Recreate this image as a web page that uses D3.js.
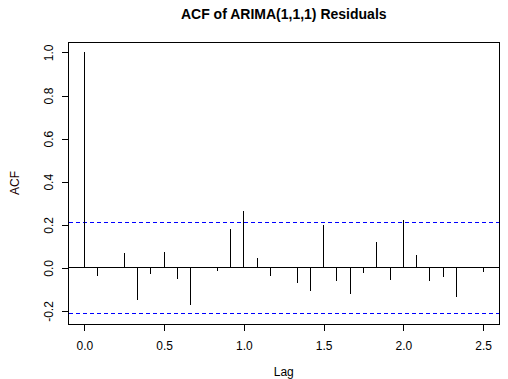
<!DOCTYPE html>
<html>
<head>
<meta charset="utf-8">
<script src="https://cdn.jsdelivr.net/npm/d3@7"></script>
<style>
  body { margin: 0; background: #fff; }
  svg { display: block; font-family: "Liberation Sans", Arial, sans-serif; }
</style>
</head>
<body>
<div id="app"></div>
<script>
const width = 508,
  height = 379,
  margin = { top: 42, right: 9, bottom: 55, left: 68.5 };

// ACF values for lags 0..30 (monthly lags, shown in years)
const lags = d3.range(31).map((k) => k / 12);
const acf = [
  1.0, -0.039, 0.002, 0.067, -0.149, -0.03, 0.073, -0.053, -0.17, 0.001,
  -0.016, 0.179, 0.263, 0.048, -0.039, 0.006, -0.072, -0.109, 0.198, -0.062,
  -0.123, -0.025, 0.118, -0.058, 0.221, 0.062, -0.062, -0.044, -0.137, 0.001,
  -0.02,
];
const ci = 0.212;
const xTicks = [0, 0.5, 1, 1.5, 2, 2.5];
const yTicks = [-0.2, 0, 0.2, 0.4, 0.6, 0.8, 1.0];

const data = lags.map((lag, i) => ({ lag, value: acf[i] }));

// R style 4% axis extension
const pad = (lo, hi) => [lo - 0.04 * (hi - lo), hi + 0.04 * (hi - lo)];
const yLo = Math.min(-ci, d3.min(acf)),
  yHi = Math.max(ci, d3.max(acf));

const xScale = d3
  .scaleLinear()
  .domain(pad(0, d3.max(lags)))
  .range([margin.left, width - margin.right]);

const yScale = d3
  .scaleLinear()
  .domain(pad(yLo, yHi))
  .range([height - margin.bottom, margin.top]);

const fmt = (d) => d3.format(".1f")(d).replace("−", "-");

const svg = d3
  .select("#app")
  .append("svg")
  .attr("width", width)
  .attr("height", height);

// box
svg
  .append("rect")
  .attr("x", margin.left)
  .attr("y", margin.top)
  .attr("width", width - margin.left - margin.right)
  .attr("height", height - margin.top - margin.bottom)
  .attr("fill", "none")
  .attr("stroke", "#000")
  .attr("shape-rendering", "crispEdges");

// x axis
const xAxis = svg
  .append("g")
  .attr("transform", `translate(0,${height - margin.bottom})`)
  .call(d3.axisBottom(xScale).tickValues(xTicks).tickFormat(fmt).tickSize(7).tickPadding(10));
xAxis.select(".domain").attr("d", `M${xScale(0)},0H${xScale(2.5)}`);
xAxis.selectAll("text").attr("font-size", 12).attr("font-family", null);
xAxis.selectAll("line, path").attr("shape-rendering", "crispEdges");

// y axis, labels rotated as in R
const yAxis = svg
  .append("g")
  .attr("transform", `translate(${margin.left},0)`)
  .call(d3.axisLeft(yScale).tickValues(yTicks).tickFormat(fmt).tickSize(7));
yAxis.select(".domain").attr("d", `M0,${yScale(-0.2)}V${yScale(1)}`);
yAxis
  .selectAll("text")
  .attr("font-size", 12)
  .attr("font-family", null)
  .attr("x", null)
  .attr("dy", null)
  .attr("text-anchor", "middle")
  .attr("transform", "translate(-16,0) rotate(-90)");
yAxis.selectAll("line, path").attr("shape-rendering", "crispEdges");

// zero line
svg
  .append("line")
  .attr("x1", margin.left)
  .attr("x2", width - margin.right)
  .attr("y1", yScale(0))
  .attr("y2", yScale(0))
  .attr("stroke", "#000")
  .attr("shape-rendering", "crispEdges");

// confidence bounds
svg
  .selectAll("line.ci")
  .data([ci, -ci])
  .join("line")
  .attr("class", "ci")
  .attr("x1", margin.left)
  .attr("x2", width - margin.right)
  .attr("y1", (d) => yScale(d))
  .attr("y2", (d) => yScale(d))
  .attr("stroke", "#0000ff")
  .attr("stroke-dasharray", "4,3")
  .attr("shape-rendering", "crispEdges");

// spikes
svg
  .selectAll("line.spike")
  .data(data)
  .join("line")
  .attr("class", "spike")
  .attr("x1", (d) => xScale(d.lag))
  .attr("x2", (d) => xScale(d.lag))
  .attr("y1", yScale(0))
  .attr("y2", (d) => yScale(d.value))
  .attr("stroke", "#000")
  .attr("shape-rendering", "crispEdges");

// titles
svg
  .append("text")
  .attr("x", (margin.left + width - margin.right) / 2)
  .attr("y", 19)
  .attr("text-anchor", "middle")
  .attr("font-size", 14)
  .attr("font-weight", "bold")
  .text("ACF of ARIMA(1,1,1) Residuals");

svg
  .append("text")
  .attr("x", (margin.left + width - margin.right) / 2)
  .attr("y", 376)
  .attr("text-anchor", "middle")
  .attr("font-size", 12)
  .text("Lag");

svg
  .append("text")
  .attr("transform", `translate(19,${(margin.top + height - margin.bottom) / 2}) rotate(-90)`)
  .attr("text-anchor", "middle")
  .attr("font-size", 12)
  .attr("fill", "#1a0000")
  .text("ACF");
</script>
</body>
</html>
